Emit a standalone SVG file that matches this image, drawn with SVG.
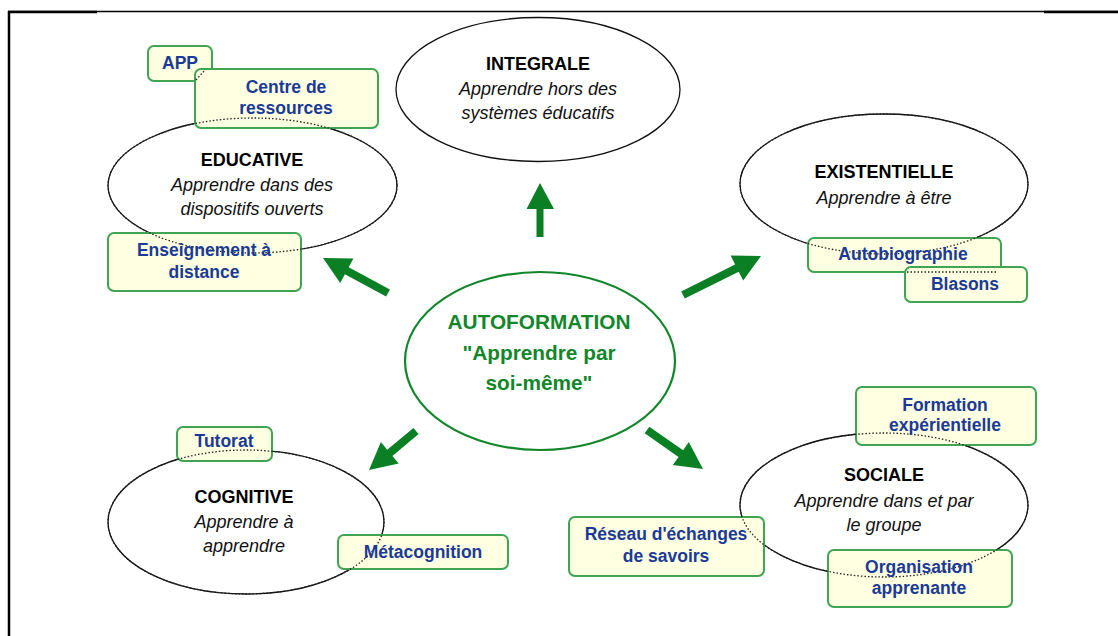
<svg xmlns="http://www.w3.org/2000/svg" width="1118" height="636" viewBox="0 0 1118 636">
<style>
.ell{fill:none;stroke:#111;stroke-width:1.3}
.ov{fill:none;stroke:#222;stroke-width:1.3;stroke-dasharray:1.5 2}
.box{fill:#ffffe2;stroke:#3fa552;stroke-width:2}
.t{font-family:"Liberation Sans",Arial,sans-serif;font-size:18px;font-weight:bold;fill:#000;text-anchor:middle}
.s{font-family:"Liberation Sans",Arial,sans-serif;font-size:18px;font-style:italic;fill:#111;text-anchor:middle}
.b{font-family:"Liberation Sans",Arial,sans-serif;font-size:17.5px;font-weight:bold;fill:#1b3a97;text-anchor:middle}
.g{font-family:"Liberation Sans",Arial,sans-serif;font-size:20.8px;font-weight:bold;fill:#12862a;text-anchor:middle}
.arr{fill:#0a7f24}
</style>
<rect x="0" y="0" width="1118" height="636" fill="#fff"/>
<g id="frame">
<line x1="8" y1="11.5" x2="1118" y2="11.5" stroke="#000" stroke-width="1.3"/>
<line x1="8" y1="12" x2="97" y2="12" stroke="#000" stroke-width="2.5"/>
<line x1="1044" y1="12" x2="1118" y2="12" stroke="#000" stroke-width="2.5"/>
<line x1="9" y1="11" x2="9" y2="636" stroke="#000" stroke-width="2.5"/>
</g>
<g id="integrale">
<ellipse class="ell" cx="538" cy="89.5" rx="142" ry="72"/>
<text class="t" x="538" y="70">INTEGRALE</text>
<text class="s" x="538" y="95">Apprendre hors des</text>
<text class="s" x="538" y="119">systèmes éducatifs</text>
</g>
<g id="educative">
<ellipse class="ell" cx="252.5" cy="185.5" rx="144.5" ry="67.5"/>
<text class="t" x="252" y="166">EDUCATIVE</text>
<text class="s" x="252" y="191">Apprendre dans des</text>
<text class="s" x="252" y="215">dispositifs ouverts</text>
</g>
<g id="existentielle">
<ellipse class="ell" cx="884" cy="184" rx="144" ry="70"/>
<text class="t" x="884" y="178">EXISTENTIELLE</text>
<text class="s" x="884" y="204">Apprendre à être</text>
</g>
<g id="cognitive">
<ellipse class="ell" cx="246" cy="522" rx="138" ry="72"/>
<text class="t" x="244" y="503">COGNITIVE</text>
<text class="s" x="244" y="528">Apprendre à</text>
<text class="s" x="244" y="552">apprendre</text>
</g>
<g id="sociale">
<ellipse class="ell" cx="884" cy="505" rx="144" ry="72"/>
<text class="t" x="884" y="481">SOCIALE</text>
<text class="s" x="884" y="507">Apprendre dans et par</text>
<text class="s" x="884" y="531">le groupe</text>
</g>
<g id="autoformation">
<ellipse cx="540" cy="361" rx="135" ry="89" fill="none" stroke="#12862a" stroke-width="2.2"/>
<text class="g" x="539" y="329">AUTOFORMATION</text>
<text class="g" x="539" y="360">"Apprendre par</text>
<text class="g" x="539" y="390">soi-même"</text>
</g>
<g id="connectors">
<polygon class="arr" points="536.5,237 543.5,237 543.5,209 554,209 540,183 526.5,209 536.5,209"/>
<polygon class="arr" points="389.9,289.5 386.1,296.5 344.9,274.3 340.2,283.1 323,258 353.4,258.5 348.7,267.3"/>
<polygon class="arr" points="684.8,298.6 681.2,291.4 735.1,264.5 730.6,255.6 761,256 743.2,280.6 738.7,271.7"/>
<polygon class="arr" points="413.4,427.9 418.6,434.1 392.4,455.9 398.7,463.6 369,470 380.9,442 387.2,449.7"/>
<polygon class="arr" points="644.7,433.3 649.3,426.7 683.1,450.3 688.8,442.1 703,469 672.8,465.1 678.5,456.9"/>
</g>
<g id="box-app">
<rect class="box" x="148" y="46" width="64" height="35" rx="6"/>
</g>
<g id="box-centre">
<rect class="box" x="195" y="69" width="183" height="59" rx="6"/>
</g>
<g id="box-enseignement">
<rect class="box" x="108" y="233" width="193" height="58" rx="6"/>
</g>
<g id="box-autobiographie">
<rect class="box" x="808" y="238" width="193" height="34" rx="6"/>
</g>
<g id="box-blasons">
<rect class="box" x="905" y="267" width="122" height="35" rx="6"/>
</g>
<g id="box-formation">
<rect class="box" x="856" y="387" width="180" height="58" rx="6"/>
</g>
<g id="box-reseau">
<rect class="box" x="569" y="517" width="195" height="59" rx="6"/>
</g>
<g id="box-organisation">
<rect class="box" x="828" y="550" width="184" height="57" rx="6"/>
</g>
<g id="box-tutorat">
<rect class="box" x="177" y="427" width="95" height="34" rx="6"/>
</g>
<g id="box-metacognition">
<rect class="box" x="338" y="535" width="170" height="34" rx="6"/>
</g>
<g id="overlaps">
<ellipse class="ov" cx="252.5" cy="185.5" rx="144.5" ry="67.5"/>
<ellipse class="ov" cx="884" cy="184" rx="144" ry="70"/>
<ellipse class="ov" cx="246" cy="522" rx="138" ry="72"/>
<ellipse class="ov" cx="884" cy="505" rx="144" ry="72"/>
<path class="ov" d="M196,80 L205,70"/>
<path class="ov" d="M907,272 L998,272"/>
</g>
<g id="labels">
<text class="b" x="180" y="69">APP</text>
<text class="b" x="286" y="93">Centre de</text>
<text class="b" x="286" y="114">ressources</text>
<text class="b" x="204" y="256">Enseignement à</text>
<text class="b" x="204" y="278">distance</text>
<text class="b" x="903" y="260">Autobiographie</text>
<text class="b" x="965" y="290">Blasons</text>
<text class="b" x="945" y="411">Formation</text>
<text class="b" x="945" y="431">expérientielle</text>
<text class="b" x="666" y="540">Réseau d'échanges</text>
<text class="b" x="666" y="562">de savoirs</text>
<text class="b" x="919" y="573">Organisation</text>
<text class="b" x="919" y="594">apprenante</text>
<text class="b" x="224" y="447">Tutorat</text>
<text class="b" x="423" y="558">Métacognition</text>
</g>
</svg>
